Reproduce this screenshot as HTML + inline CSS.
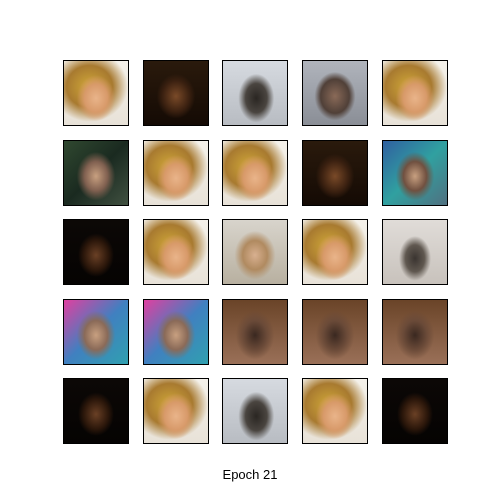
<!DOCTYPE html>
<html><head><meta charset="utf-8"><style>
body{margin:0;width:500px;height:500px;background:#fff;position:relative;overflow:hidden;font-family:"Liberation Sans","DejaVu Sans",sans-serif}
.c{position:absolute;width:66px;height:66px;border:1px solid #000;box-sizing:border-box}
#t{position:absolute;top:467px;left:0;width:500px;text-align:center;font-size:13px;color:#000}
</style></head><body>
<div id="grid"></div>
<div id="t">Epoch 21</div>
<script>
const xs=[63,143,222,302,382];
const ys=[60,140,219,299,378];
const S={
 A:"radial-gradient(ellipse 30% 36% at 50% 58%,#e9b48a 0%,#d89a6a 60%,transparent 100%),radial-gradient(ellipse 60% 55% at 40% 40%,#d0a838 0%,#a87a30 60%,transparent 100%),linear-gradient(#f4f1ea,#e8e2d8)",
 B:"radial-gradient(ellipse 30% 35% at 50% 55%,#7a4a28 0%,#3a2010 70%,transparent 100%),linear-gradient(#2a1a0c,#140a04)",
 C:"radial-gradient(ellipse 28% 38% at 52% 58%,#2a2622 0%,#4a4540 60%,transparent 100%),linear-gradient(#d6dae0,#b8bcc2)",
 G:"radial-gradient(ellipse 32% 38% at 50% 55%,#8a6a58 0%,#504038 70%,transparent 100%),linear-gradient(#b0b4bc,#8a8e96)",
 K:"radial-gradient(ellipse 28% 34% at 50% 55%,#6a4025 0%,#2a160a 70%,transparent 100%),linear-gradient(#0c0806,#050302)",
 D:"radial-gradient(ellipse 30% 38% at 50% 55%,#c8a080 0%,#806050 60%,transparent 100%),linear-gradient(135deg,#304830,#1a2a20 50%,#405040)",
 P:"radial-gradient(ellipse 30% 38% at 50% 55%,#c8a080 0%,#8a6a58 60%,transparent 100%),linear-gradient(135deg,#e040a0,#4080c0 50%,#30a0b0)",
 Q:"radial-gradient(ellipse 30% 38% at 50% 55%,#c8a080 0%,#705040 60%,transparent 100%),linear-gradient(135deg,#3060a0,#30a0a0 50%,#507080)",
 W:"radial-gradient(ellipse 25% 35% at 50% 60%,#3a3430 0%,#605850 60%,transparent 100%),linear-gradient(#e0dcd8,#c8c2bc)",
 R:"radial-gradient(ellipse 30% 38% at 50% 55%,#3a2820 0%,#6a4a38 60%,transparent 100%),linear-gradient(#6a4428,#9a7058)",
 L:"radial-gradient(ellipse 32% 38% at 50% 55%,#d8b090 0%,#b08a60 60%,transparent 100%),linear-gradient(#d8d4cc,#b8b0a0)"
};
const types=["A","B","C","G","A","D","A","A","B","Q","K","A","L","A","W","P","P","R","R","R","K","A","C","A","K"];
types.forEach((tp,i)=>{
 const d=document.createElement('div');
 d.className='c';
 
 
 d.style.left=xs[i%5]+'px';d.style.top=ys[Math.floor(i/5)]+'px';
 d.style.background=S[tp];
 document.getElementById('grid').appendChild(d);
});
</script>
</body></html>
